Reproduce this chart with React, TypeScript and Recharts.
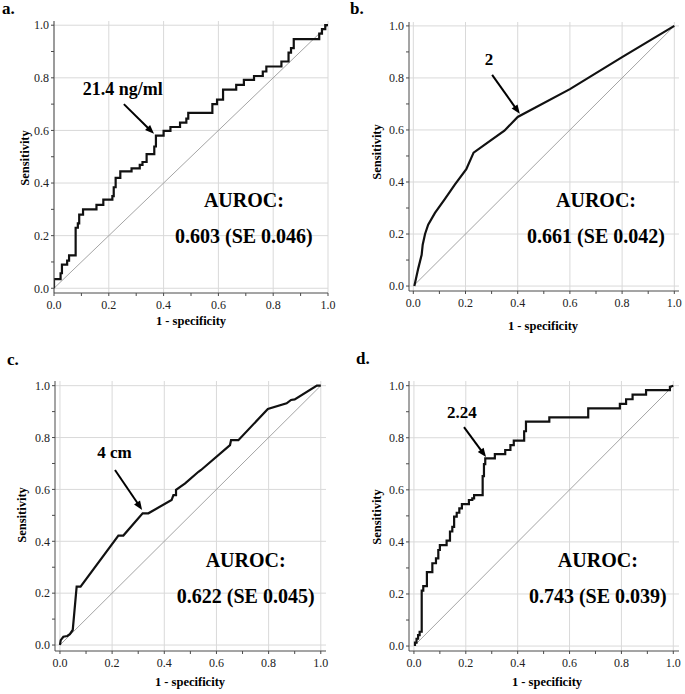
import React from 'react';
import { LineChart, Line, XAxis, YAxis, CartesianGrid, ReferenceLine, ReferenceDot } from 'recharts';

const FONT = '"Liberation Serif", "Times New Roman", Times, serif';

// ---------- data (1 - specificity, sensitivity) ----------
const fprA = [0, 0, 0.024, 0.024, 0.029, 0.029, 0.048, 0.048, 0.055, 0.055, 0.079, 0.079, 0.087, 0.087, 0.092, 0.092, 0.106, 0.106, 0.155, 0.155, 0.18, 0.18, 0.213, 0.213, 0.218, 0.218, 0.225, 0.225, 0.242, 0.242, 0.283, 0.283, 0.313, 0.313, 0.323, 0.323, 0.338, 0.338, 0.366, 0.366, 0.372, 0.372, 0.4, 0.4, 0.425, 0.425, 0.46, 0.46, 0.483, 0.483, 0.49, 0.49, 0.578, 0.578, 0.595, 0.595, 0.617, 0.617, 0.665, 0.665, 0.693, 0.693, 0.73, 0.73, 0.762, 0.762, 0.775, 0.775, 0.83, 0.83, 0.856, 0.856, 0.865, 0.865, 0.875, 0.875, 0.968, 0.968, 0.978, 0.978, 0.99, 0.99, 1.0];
const tprA = [0, 0.035, 0.035, 0.057, 0.057, 0.09, 0.09, 0.105, 0.105, 0.125, 0.125, 0.23, 0.23, 0.247, 0.247, 0.28, 0.28, 0.3, 0.3, 0.317, 0.317, 0.337, 0.337, 0.35, 0.35, 0.384, 0.384, 0.42, 0.42, 0.444, 0.444, 0.456, 0.456, 0.469, 0.469, 0.48, 0.48, 0.51, 0.51, 0.539, 0.539, 0.58, 0.58, 0.598, 0.598, 0.613, 0.613, 0.63, 0.63, 0.645, 0.645, 0.667, 0.667, 0.7, 0.7, 0.717, 0.717, 0.755, 0.755, 0.773, 0.773, 0.792, 0.792, 0.807, 0.807, 0.824, 0.824, 0.843, 0.843, 0.862, 0.862, 0.896, 0.896, 0.913, 0.913, 0.947, 0.947, 0.968, 0.968, 0.985, 0.985, 1.0, 1.0];

const fprB = [0.004, 0.019, 0.032, 0.036, 0.045, 0.057, 0.083, 0.12, 0.159, 0.203, 0.231, 0.286, 0.349, 0.4, 0.6, 0.8, 1.0];
const tprB = [0, 0.068, 0.12, 0.159, 0.2, 0.236, 0.281, 0.333, 0.39, 0.449, 0.513, 0.552, 0.597, 0.65, 0.757, 0.88, 1.0];

const fprC = [0, 0.003, 0.013, 0.028, 0.038, 0.049, 0.064, 0.079, 0.224, 0.243, 0.317, 0.339, 0.428, 0.435, 0.445, 0.445, 0.48, 0.531, 0.541, 0.652, 0.656, 0.684, 0.797, 0.869, 0.886, 0.9, 0.985, 1.0];
const tprC = [0, 0.019, 0.032, 0.035, 0.042, 0.058, 0.225, 0.225, 0.422, 0.422, 0.508, 0.508, 0.559, 0.578, 0.578, 0.598, 0.623, 0.668, 0.675, 0.771, 0.79, 0.79, 0.91, 0.932, 0.945, 0.947, 1.0, 1.0];

const fprD = [0.004, 0.004, 0.01, 0.01, 0.016, 0.016, 0.022, 0.022, 0.03, 0.03, 0.036, 0.036, 0.05, 0.05, 0.071, 0.071, 0.085, 0.085, 0.094, 0.094, 0.1, 0.1, 0.126, 0.126, 0.139, 0.139, 0.148, 0.148, 0.155, 0.155, 0.165, 0.165, 0.175, 0.175, 0.185, 0.185, 0.212, 0.212, 0.225, 0.225, 0.232, 0.232, 0.265, 0.265, 0.27, 0.27, 0.275, 0.275, 0.312, 0.312, 0.352, 0.352, 0.372, 0.372, 0.385, 0.385, 0.425, 0.425, 0.432, 0.432, 0.522, 0.522, 0.672, 0.672, 0.794, 0.794, 0.818, 0.818, 0.843, 0.843, 0.895, 0.895, 0.987, 0.987, 1.0];
const tprD = [0, 0.013, 0.013, 0.028, 0.028, 0.042, 0.042, 0.055, 0.055, 0.213, 0.213, 0.23, 0.23, 0.284, 0.284, 0.318, 0.318, 0.337, 0.337, 0.369, 0.369, 0.388, 0.388, 0.405, 0.405, 0.44, 0.44, 0.458, 0.458, 0.497, 0.497, 0.512, 0.512, 0.529, 0.529, 0.545, 0.545, 0.561, 0.561, 0.567, 0.567, 0.58, 0.58, 0.653, 0.653, 0.699, 0.699, 0.721, 0.721, 0.737, 0.737, 0.753, 0.753, 0.772, 0.772, 0.789, 0.789, 0.825, 0.825, 0.862, 0.862, 0.878, 0.878, 0.913, 0.913, 0.93, 0.93, 0.948, 0.948, 0.966, 0.966, 0.983, 0.983, 0.996, 1.0];

const diagX = [0, 1];
const diagY = [0, 1];

const panelLetters = ['a.', 'b.', 'c.', 'd.'];
const cutoffLabels = ['21.4 ng/ml', '2', '4 cm', '2.24'];
const aurocLabels = ['0.603 (SE 0.046)', '0.661 (SE 0.042)', '0.622 (SE 0.045)', '0.743 (SE 0.039)'];
const tickValues = [0, 0.1, 0.2, 0.3, 0.4, 0.5, 0.6, 0.7, 0.8, 0.9, 1.0];
const gridValues = [0, 0.2, 0.4, 0.6, 0.8, 1.0];

const toPts = (xs: number[], ys: number[]) => xs.map((x, i) => ({ x, y: ys[i] }));

// ---------- layout ----------
const YW = 45;
const XH = 32;
const MT = 4;
const MR = 14;

const panels = [
  {
    pts: toPts(fprA, tprA), frame: { left: 54, top: 21, w: 274, h: 272 },
    xDomain: [0, 1], yDomain: [-0.018, 1.016],
    cutoffAt: [0.251, 0.735], cutoffSize: 18, arrowFrom: [0.255, 0.7], arrowTo: [0.365, 0.587],
    aurocX: 0.693, aurocY1: 0.309, aurocY2: 0.172,
    letterPos: [2, 14], sensPos: [25, 158], specPos: [191, 325],
  },
  {
    pts: toPts(fprB, tprB), frame: { left: 409, top: 22, w: 270, h: 269 },
    xDomain: [-0.0165, 1.018], yDomain: [-0.019, 1.015],
    cutoffAt: [0.29, 0.85], cutoffSize: 17, arrowFrom: [0.302, 0.812], arrowTo: [0.408, 0.662],
    aurocX: 0.70, aurocY1: 0.304, aurocY2: 0.165,
    letterPos: [350, 14], sensPos: [377, 152], specPos: [543, 330],
  },
  {
    pts: toPts(fprC, tprC), frame: { left: 55, top: 381, w: 271, h: 270 },
    xDomain: [-0.019, 1.02], yDomain: [-0.023, 1.018],
    cutoffAt: [0.209, 0.721], cutoffSize: 17, arrowFrom: [0.211, 0.675], arrowTo: [0.315, 0.521],
    aurocX: 0.712, aurocY1: 0.301, aurocY2: 0.162,
    letterPos: [7, 365], sensPos: [22, 515], specPos: [190, 686],
  },
  {
    pts: toPts(fprD, tprD), frame: { left: 409, top: 381, w: 270, h: 270 },
    xDomain: [-0.019, 1.022], yDomain: [-0.019, 1.018],
    cutoffAt: [0.185, 0.876], cutoffSize: 17, arrowFrom: [0.193, 0.841], arrowTo: [0.278, 0.726],
    aurocX: 0.709, aurocY1: 0.303, aurocY2: 0.165,
    letterPos: [356, 364], sensPos: [377, 517], specPos: [547, 686],
  },
];

const fmtTick = (v: number) => {
  const k = Math.round(v * 10);
  return k % 2 === 0 ? v.toFixed(1) : '';
};

const textLabel = (text: string, size: number) => (props: any) => {
  const vb = props.viewBox || {};
  const x = (vb.x || 0) + (vb.width || 0) / 2;
  const y = (vb.y || 0) + (vb.height || 0) / 2;
  return (
    <text x={x} y={y} textAnchor="middle" fontFamily={FONT} fontWeight="bold" fontSize={size} fill="#000">
      {text}
    </text>
  );
};

const ArrowShape = (p: any) => {
  const { x1, y1, x2, y2 } = p;
  const dx = x2 - x1;
  const dy = y2 - y1;
  const len = Math.hypot(dx, dy) || 1;
  const ux = dx / len;
  const uy = dy / len;
  const hl = 9;
  const hw = 3.6;
  const bx = x2 - ux * hl;
  const by = y2 - uy * hl;
  return (
    <g>
      <line x1={x1} y1={y1} x2={bx + ux} y2={by + uy} stroke="#000" strokeWidth={2} />
      <polygon points={`${x2},${y2} ${bx - uy * hw},${by + ux * hw} ${bx + uy * hw},${by - ux * hw}`} fill="#000" />
    </g>
  );
};

const tickStyle = { fontSize: 12, fill: '#222', fontFamily: FONT };
const frameColor = '#4a4a4a';

function Panel({ p, i }: { p: any; i: number }) {
  const { frame } = p;
  return (
    <div style={{ position: 'absolute', left: frame.left - YW, top: frame.top - MT }}>
      <LineChart width={YW + frame.w + MR} height={MT + frame.h + XH} margin={{ top: MT, right: MR, bottom: 0, left: 0 }}>
        <CartesianGrid stroke="#d9d9d9" strokeWidth={1} horizontalValues={gridValues} verticalValues={gridValues} />
        <XAxis
          xAxisId={0} dataKey="x" type="number" domain={p.xDomain} allowDataOverflow ticks={tickValues}
          tickFormatter={fmtTick} interval={0} height={XH} tickSize={3} tickMargin={4}
          tick={tickStyle} axisLine={{ stroke: frameColor }} tickLine={{ stroke: frameColor }}
        />
        <XAxis
          xAxisId="top" orientation="top" type="number" domain={p.xDomain} allowDataOverflow ticks={tickValues}
          interval={0} height={0} mirror tickSize={3} tick={false}
          axisLine={{ stroke: frameColor }} tickLine={{ stroke: frameColor }}
        />
        <YAxis
          yAxisId={0} type="number" domain={p.yDomain} allowDataOverflow ticks={tickValues}
          tickFormatter={fmtTick} interval={0} width={YW} tickSize={3} tickMargin={2}
          tick={tickStyle} axisLine={{ stroke: frameColor }} tickLine={{ stroke: frameColor }}
        />
        <YAxis
          yAxisId="right" orientation="right" type="number" domain={p.yDomain} allowDataOverflow ticks={tickValues}
          interval={0} width={0} mirror tickSize={3} tick={false}
          axisLine={{ stroke: frameColor }} tickLine={{ stroke: frameColor }}
        />
        <Line
          data={toPts(diagX, diagY)} dataKey="y" type="linear" stroke="#9a9a9a" strokeWidth={0.9}
          dot={false} activeDot={false} isAnimationActive={false}
        />
        <Line
          data={p.pts} dataKey="y" type="linear" stroke="#111" strokeWidth={2.2}
          dot={false} activeDot={false} isAnimationActive={false}
        />
        <ReferenceLine
          segment={[{ x: p.arrowFrom[0], y: p.arrowFrom[1] }, { x: p.arrowTo[0], y: p.arrowTo[1] }]}
          shape={ArrowShape} ifOverflow="visible"
        />
        <ReferenceDot x={p.cutoffAt[0]} y={p.cutoffAt[1]} r={0} fill="none" stroke="none" ifOverflow="visible"
          label={textLabel(cutoffLabels[i], p.cutoffSize)} />
        <ReferenceDot x={p.aurocX} y={p.aurocY1} r={0} fill="none" stroke="none" ifOverflow="visible"
          label={textLabel('AUROC:', 20)} />
        <ReferenceDot x={p.aurocX} y={p.aurocY2} r={0} fill="none" stroke="none" ifOverflow="visible"
          label={textLabel(aurocLabels[i], 20)} />
      </LineChart>
    </div>
  );
}

export default function App() {
  return (
    <div style={{ position: 'absolute', left: 0, top: 0, width: 685, height: 694, background: '#fff', overflow: 'hidden' }}>
      {panels.map((p, i) => (
        <Panel key={i} p={p} i={i} />
      ))}
      <svg width={685} height={694} style={{ position: 'absolute', left: 0, top: 0, pointerEvents: 'none' }}>
        {panels.map((p, i) => (
          <g key={i} fontFamily={FONT} fontWeight="bold" fill="#000">
            <text x={p.letterPos[0]} y={p.letterPos[1]} fontSize={17}>{panelLetters[i]}</text>
            <text
              x={p.sensPos[0] + 4.3} y={p.sensPos[1]} fontSize={12.5} textAnchor="middle"
              transform={`rotate(-90 ${p.sensPos[0] + 4.3} ${p.sensPos[1]})`}
            >
              Sensitivity
            </text>
            <text x={p.specPos[0]} y={p.specPos[1]} fontSize={12.5} textAnchor="middle">1 - specificity</text>
          </g>
        ))}
      </svg>
    </div>
  );
}
